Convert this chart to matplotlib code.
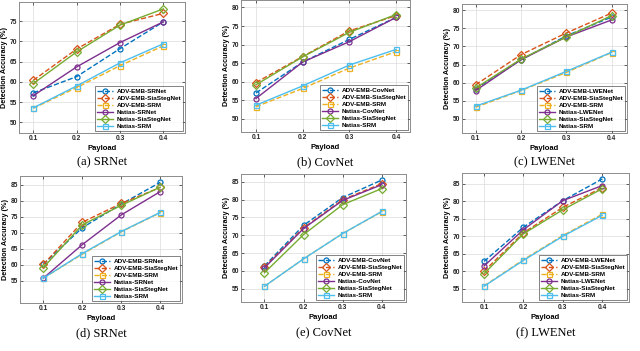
import numpy as np
import matplotlib
matplotlib.use("Agg")
import matplotlib.pyplot as plt

plt.rcParams['font.family'] = ['Liberation Sans', 'DejaVu Sans']

payload = [0.1, 0.2, 0.3, 0.4]

# values per panel, order: ADV-EMB-X, ADV-EMB-SiaStegNet, ADV-EMB-SRM, Natias-X, Natias-SiaStegNet, Natias-SRM
a_vals = [[57.3, 61.3, 68.2, 74.8],
          [60.4, 68.1, 74.2, 76.9],
          [53.5, 58.6, 64.0, 68.9],
          [56.6, 63.7, 69.7, 74.8],
          [59.6, 67.4, 74.0, 78.0],
          [53.6, 59.0, 64.7, 69.4]]
b_vals = [[57.0, 65.3, 71.4, 77.3],
          [59.8, 66.8, 73.7, 77.8],
          [53.3, 58.2, 63.7, 68.1],
          [55.5, 65.3, 70.8, 77.3],
          [59.2, 66.7, 73.3, 78.1],
          [53.7, 58.9, 64.5, 68.7]]
c_vals = [[58.3, 66.3, 72.9, 78.1],
          [59.4, 67.7, 73.7, 79.2],
          [53.2, 57.8, 62.8, 68.3],
          [57.8, 66.3, 72.6, 77.3],
          [58.5, 66.5, 72.6, 78.5],
          [53.5, 57.9, 63.1, 68.4]]
d_vals = [[60.1, 71.6, 79.0, 85.8],
          [60.1, 73.3, 79.2, 84.2],
          [55.8, 63.3, 70.3, 76.3],
          [55.8, 66.3, 75.6, 82.9],
          [59.1, 72.5, 78.6, 84.3],
          [55.8, 63.5, 70.4, 76.4]]
e_vals = [[61.4, 72.8, 80.6, 85.5],
          [61.1, 72.1, 80.0, 84.5],
          [55.7, 63.4, 70.5, 76.6],
          [60.9, 71.9, 79.8, 84.2],
          [59.5, 70.2, 78.6, 83.1],
          [55.7, 63.4, 70.5, 76.7]]
f_vals = [[62.8, 72.6, 80.2, 86.4],
          [60.0, 71.0, 78.3, 83.9],
          [55.8, 63.3, 70.2, 76.3],
          [61.5, 71.9, 80.2, 84.5],
          [59.3, 70.7, 77.6, 83.6],
          [55.7, 63.1, 70.0, 76.0]]

nets = ['SRNet', 'CovNet', 'LWENet', 'SRNet', 'CovNet', 'LWENet']
captions = ['(a) SRNet', '(b) CovNet', '(c) LWENet', '(d) SRNet', '(e) CovNet', '(f) LWENet']
all_vals = [a_vals, b_vals, c_vals, d_vals, e_vals, f_vals]

colors = ['#0072BD', '#D95319', '#EDB120', '#7E2F8E', '#77AC30', '#4DBEEE']
markers = ['o', 'D', 's', 'o', 'D', 's']
styles = ['--', '--', '--', '-', '-', '-']

# axes boxes in pixels: left, right, top, bottom
boxes = [(19, 185, 2, 133), (241, 410, 0, 132), (462, 627, 4, 133),
         (20, 182, 176, 303), (241, 406, 174, 302), (462, 629, 173, 302)]
xlims = [(0.067, 0.45), (0.068, 0.43), (0.07, 0.434),
         (0.04, 0.456), (0.04, 0.462), (0.044, 0.468)]
ylims = [(47.4, 79.7), (46.5, 82.0), (46.1, 81.7),
         (48.0, 87.8), (51.3, 87.2), (51.2, 88.1)]
yticks = [np.arange(50, 80, 5), np.arange(50, 85, 5), np.arange(50, 85, 5),
          np.arange(55, 90, 5), np.arange(55, 90, 5), np.arange(55, 90, 5)]

W, H = 640, 351
fig = plt.figure(figsize=(6.4, 3.51), dpi=100)

for i in range(6):
    l, r, t, b = boxes[i]
    ax = fig.add_axes([l / W, 1 - b / H, (r - l) / W, (b - t) / H])
    labels = ['ADV-EMB-' + nets[i], 'ADV-EMB-SiaStegNet', 'ADV-EMB-SRM',
              'Natias-' + nets[i], 'Natias-SiaStegNet', 'Natias-SRM']
    for k in range(6):
        ax.plot(payload, all_vals[i][k], linestyle=styles[k], color=colors[k],
                marker=markers[k], markersize=3.6, markerfacecolor='none',
                markeredgewidth=0.9, linewidth=1.0, label=labels[k])
    ax.set_xlim(xlims[i])
    ax.set_ylim(ylims[i])
    ax.set_xticks(payload)
    ax.set_yticks(yticks[i])
    ax.tick_params(direction='in', length=2, width=0.5, labelsize=4.8, pad=1.5,
                   colors='#262626', top=True, right=True)
    for lab in ax.get_xticklabels() + ax.get_yticklabels():
        lab.set_fontweight('bold')
    ax.grid(True, color='#dcdcdc', linewidth=0.5)
    for sp in ax.spines.values():
        sp.set_color('#8c8c8c')
        sp.set_linewidth(0.7)
    ax.set_xlabel('Payload', fontsize=5.5, fontweight='bold', labelpad=2)
    ax.set_ylabel('Detection Accuracy (%)', fontsize=5.2, fontweight='bold', labelpad=1)
    leg = ax.legend(loc='lower right', prop={'weight': 'bold', 'size': 4.6},
                    frameon=True, fancybox=False, edgecolor='#262626',
                    borderpad=0.3, labelspacing=0.25, handlelength=2.6,
                    handletextpad=0.5, borderaxespad=0.3)
    leg.get_frame().set_linewidth(0.5)
    cy = 162 if i < 3 else 333
    fig.text((l + r) / 2 / W, 1 - cy / H, captions[i], ha='center', va='center',
             fontsize=9, family='Liberation Serif')

fig.savefig('out.png', dpi=100)
